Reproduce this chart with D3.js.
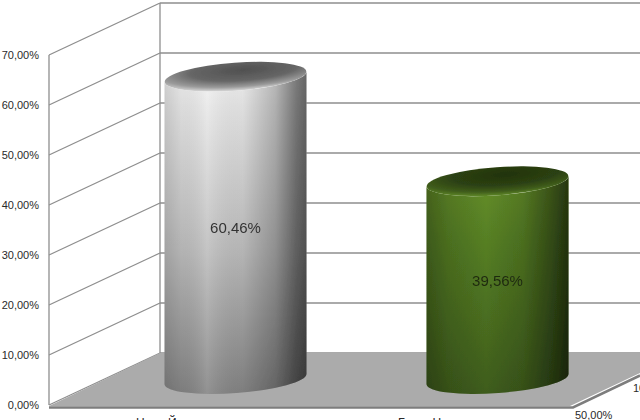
<!DOCTYPE html>
<html>
<head>
<meta charset="utf-8">
<script src="https://cdn.jsdelivr.net/npm/d3@7"></script>
<style>
  html, body { margin: 0; padding: 0; background: #fff; overflow: hidden; }
  text { font-family: "Liberation Sans", Arial, sans-serif; fill: #2a2a2a; }
</style>
</head>
<body>
<svg id="chart" width="640" height="420"></svg>
<script>
const categories = ['Н       Й', 'Б        Н'];
const values = [60.46, 39.56];
const valueLabels = ['60,46%', '39,56%'];
const yTicks = [0, 10, 20, 30, 40, 50, 60, 70];
const depthTicks = [50, 100];

const front = { left: 49, right: 573, bottom: 405, top: 55 };
const depth = { x: 111, y: -52 };
const rx = 71, ry = 14, tilt = -4.2;

const svg = d3.select('#chart');
const defs = svg.append('defs');

defs.append('filter').attr('id', 'soft')
  .append('feGaussianBlur').attr('stdDeviation', 0.5);

function addStops(g, stops) {
  stops.forEach(s => g.append('stop').attr('offset', s[0]).attr('stop-color', s[1]).attr('stop-opacity', s[2] === undefined ? 1 : s[2]));
}
function gradient(id, stops, x2, y2) {
  addStops(defs.append('linearGradient').attr('id', id)
    .attr('x1', 0).attr('y1', 0).attr('x2', x2).attr('y2', y2), stops);
}

const palette = [
  {
    side: [[0, '#f4f4f4'], [0.12, '#e6e6e6'], [0.55, '#bdbdbd'], [1, '#838383']],
    shade: [[0, '#000', 0.14], [0.12, '#000', 0.05], [0.3, '#fff', 0.12], [0.55, '#000', 0.04], [0.78, '#000', 0.24], [0.93, '#000', 0.5], [1, '#000', 0.58]],
    top: [[0, '#505050'], [0.5, '#666'], [0.78, '#9a9a9a'], [1, '#e4e4e4']]
  },
  {
    side: [[0, '#658f2a'], [0.3, '#567f24'], [1, '#3e5c1c']],
    shade: [[0, '#000', 0.3], [0.15, '#000', 0.14], [0.42, '#000', 0], [0.68, '#000', 0.14], [0.88, '#000', 0.42], [1, '#000', 0.62]],
    top: [[0, '#22330e'], [0.5, '#2c4112'], [0.78, '#3f5c1b'], [1, '#628c29']]
  }
];
palette.forEach((p, i) => {
  gradient('side' + i, p.side, 0, 1);
  gradient('shade' + i, p.shade, 1, 0);
  addStops(defs.append('radialGradient').attr('id', 'top' + i)
    .attr('cx', 0.56).attr('cy', 0.28).attr('r', 0.75), p.top);
});

const y = d3.scaleLinear().domain([0, 70]).range([front.bottom, front.top]);
const x = d3.scaleBand().domain(categories).range([front.left, front.right]).paddingInner(0.458).paddingOuter(0.229);
const depthX = d3.scaleLinear().domain([50, 100]).range([0, 58]);
const depthY = d3.scaleLinear().domain([50, 100]).range([0, -27]);

const g = svg.append('g').attr('filter', 'url(#soft)');

// walls
const grid = g.append('g').attr('stroke', '#8e8e8e').attr('stroke-width', 1.3).attr('fill', 'none');
grid.selectAll('.side').data(yTicks).enter().append('line')
  .attr('x1', front.left).attr('y1', d => y(d))
  .attr('x2', front.left + depth.x).attr('y2', d => y(d) + depth.y);
grid.selectAll('.back').data(yTicks).enter().append('line')
  .attr('x1', front.left + depth.x).attr('y1', d => y(d) + depth.y)
  .attr('x2', 640).attr('y2', d => y(d) + depth.y);
grid.append('line').attr('x1', front.left).attr('x2', front.left).attr('y1', y(70)).attr('y2', y(0));
grid.append('line').attr('x1', front.left + depth.x).attr('x2', front.left + depth.x)
  .attr('y1', y(70) + depth.y).attr('y2', y(0) + depth.y);

// floor
const floorPts = [
  [front.left, y(0) + 1],
  [front.left + depth.x, y(0) + depth.y],
  [640, y(0) + depth.y],
  [640, 373],
  [front.right - 3, y(0) + 1]
];
g.append('path').attr('d', d3.line()(floorPts) + 'Z').attr('fill', '#ababab');
g.append('path')
  .attr('d', d3.line()([[front.left, y(0) + 2.5], [front.right, y(0) + 2.5], [640, 375.5]]))
  .attr('fill', 'none').attr('stroke', '#7d7d7d').attr('stroke-width', 2.5);

// cylinders
const bars = g.selectAll('.bar').data(values).enter().append('g').attr('class', 'bar');
const cx = i => x(categories[i]) + x.bandwidth() / 2 + depth.x / 2;
const baseY = y(0) + depth.y / 2;
const topY = d => y(d) + depth.y / 2;
const dy = rx * Math.sin(tilt * Math.PI / 180);

function sidePath(d, i) {
  const l = cx(i) - rx, r = cx(i) + rx, yt = topY(d);
  return `M${l},${yt - dy}L${l},${baseY - dy}A${rx},${ry} ${tilt} 0 0 ${r},${baseY + dy}L${r},${yt + dy}A${rx},${ry} ${tilt} 0 1 ${l},${yt - dy}Z`;
}
bars.append('path').attr('d', sidePath).attr('fill', (d, i) => `url(#side${i})`);
bars.append('path').attr('d', sidePath).attr('fill', (d, i) => `url(#shade${i})`);
bars.append('ellipse')
  .attr('rx', rx).attr('ry', ry)
  .attr('transform', (d, i) => `translate(${cx(i)},${topY(d)}) rotate(${tilt})`)
  .attr('fill', (d, i) => `url(#top${i})`);

bars.append('text')
  .attr('x', (d, i) => cx(i))
  .attr('y', d => (topY(d) + baseY) / 2 + 5.5)
  .attr('text-anchor', 'middle')
  .attr('font-size', 15)
  .style('fill', (d, i) => i ? '#1f2a10' : '#333')
  .text((d, i) => valueLabels[i]);

// y axis labels
svg.selectAll('.ytick').data(yTicks).enter().append('text')
  .attr('x', 39).attr('y', d => y(d) + 4)
  .attr('text-anchor', 'end').attr('font-size', 11)
  .text(d => d3.format('.2f')(d).replace('.', ',') + '%');

// category labels, cut off by the bottom of the picture
svg.selectAll('.cat').data(categories).enter().append('text')
  .attr('x', d => x(d) + x.bandwidth() / 2 - 44)
  .attr('y', 427).attr('font-size', 12)
  .style('white-space', 'pre')
  .text(d => d);

// depth axis labels
svg.selectAll('.depth').data(depthTicks).enter().append('text')
  .attr('x', d => 575 + depthX(d)).attr('y', d => 419 + depthY(d))
  .attr('font-size', 11)
  .text(d => d3.format('.2f')(d).replace('.', ',') + '%');
</script>
</body>
</html>
